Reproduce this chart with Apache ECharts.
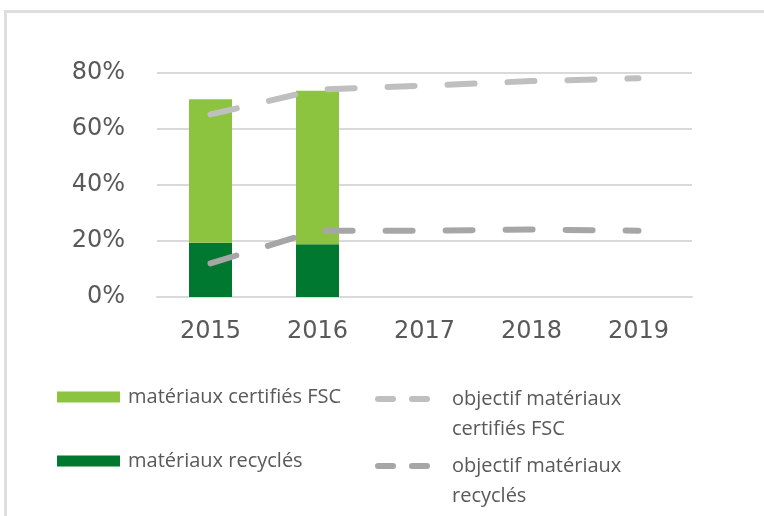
<!DOCTYPE html>
<html><head><meta charset="utf-8">
<script src="https://cdn.jsdelivr.net/npm/echarts@6/dist/echarts.min.js"></script>
<style>html,body{margin:0;padding:0;background:#fff}#c{width:764px;height:516px}</style>
</head><body><div id="c"></div>
<script>
var years = ['2015', '2016', '2017', '2018', '2019'];
var recycles = [19.4, 18.8, null, null, null];
var fscTotal = [70.6, 73.7, null, null, null];
var fscPart = [51.2, 54.9, null, null, null]; // total minus recycled (stacked on top)
var objectifFSC = [65.2, 74.1, 75.5, 77.1, 78.1];
var objectifRecycles = [12.0, 23.7, 23.7, 24.1, 23.7];
var yTicks = [0, 20, 40, 60, 80];
var names = ['matériaux certifiés FSC', 'matériaux recyclés', 'objectif matériaux\ncertifiés FSC', 'objectif matériaux\nrecyclés'];

var txt = '#595959';
var font = 'Open Sans';
var axisFont = 'DejaVu Sans';
var dashIcon = 'path://M3,0h15a3,3 0 0 1 0,6h-15a3,3 0 0 1 0,-6z M37,0h15a3,3 0 0 1 0,6h-15a3,3 0 0 1 0,-6z';
var chart = echarts.init(document.getElementById('c'), null, {renderer: 'canvas'});
var legendBase = {orient: 'vertical', itemGap: 0, padding: 0, selectedMode: false,
  textStyle: {color: txt, fontFamily: font, fontSize: 20, lineHeight: 30}};
chart.setOption({
  animation: false,
  backgroundColor: '#fff',
  grid: {left: 157, right: 72, top: 73, bottom: 219, containLabel: false},
  xAxis: {type: 'category', data: years, boundaryGap: true,
    axisLine: {show: true, lineStyle: {color: '#D9D9D9', width: 2}}, axisTick: {show: false},
    axisLabel: {color: txt, fontFamily: axisFont, fontSize: 24, margin: 23}},
  yAxis: {type: 'value', min: yTicks[0], max: yTicks[yTicks.length - 1], interval: 20,
    axisLine: {show: false}, axisTick: {show: false},
    splitLine: {lineStyle: {color: '#D9D9D9', width: 2}},
    axisLabel: {color: txt, fontFamily: axisFont, fontSize: 24, margin: 32, formatter: '{value}%'}},
  legend: [
    Object.assign({}, legendBase, {left: 57, top: 382, data: [{name: names[0], icon: 'rect'}], itemWidth: 63, itemHeight: 11,
      textStyle: Object.assign({}, legendBase.textStyle, {padding: [0, 0, 0, 3]})}),
    Object.assign({}, legendBase, {left: 57, top: 446, data: [{name: names[1], icon: 'rect'}], itemWidth: 63, itemHeight: 11,
      textStyle: Object.assign({}, legendBase.textStyle, {padding: [0, 0, 0, 3]})}),
    Object.assign({}, legendBase, {left: 375, top: 354, data: [{name: names[2], icon: dashIcon}], itemWidth: 55, itemHeight: 6,
      formatter: function (n) { return '\n' + n; },
      textStyle: Object.assign({}, legendBase.textStyle, {padding: [0, 0, 0, 17]})}),
    Object.assign({}, legendBase, {left: 375, top: 421, data: [{name: names[3], icon: dashIcon}], itemWidth: 55, itemHeight: 6,
      formatter: function (n) { return '\n' + n; },
      textStyle: Object.assign({}, legendBase.textStyle, {padding: [0, 0, 0, 17]})})
  ],
  graphic: [
    {type: 'line', shape: {x1: 5.5, y1: 10, x2: 5.5, y2: 516}, style: {stroke: '#DEDEDE', lineWidth: 3}, silent: true},
    {type: 'line', shape: {x1: 4, y1: 11.5, x2: 764, y2: 11.5}, style: {stroke: '#DEDEDE', lineWidth: 3}, silent: true}
  ],
  series: [
    {name: names[1], type: 'bar', stack: 'a', data: recycles, barWidth: 43, itemStyle: {color: '#00782F'}},
    {name: names[0], type: 'bar', stack: 'a', data: fscPart, barWidth: 43, itemStyle: {color: '#8CC43F'}},
    {name: names[2], type: 'line', data: objectifFSC, symbol: 'none', showSymbol: false, z: 5,
      itemStyle: {color: '#BFBFBF'},
      lineStyle: {color: '#BFBFBF', width: 6, type: [27, 33], cap: 'round'}},
    {name: names[3], type: 'line', data: objectifRecycles, symbol: 'none', showSymbol: false, z: 5,
      itemStyle: {color: '#A6A6A6'},
      lineStyle: {color: '#A6A6A6', width: 6, type: [27, 33], cap: 'round'}}
  ]
});
</script></body></html>
